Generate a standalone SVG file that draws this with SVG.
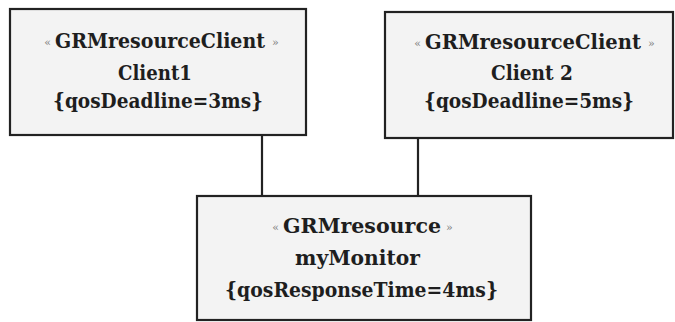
<svg xmlns="http://www.w3.org/2000/svg" width="675" height="322" viewBox="0 0 675 322">
<style>
.box{fill:#f3f3f3;stroke:#222;stroke-width:2.2}
.t{font-family:"DejaVu Serif","Liberation Serif",serif;font-weight:bold;font-size:21px;fill:#1e1e1e}
.s{font-size:19.5px}
.g{font-family:"DejaVu Serif","Liberation Serif",serif;font-size:11px;fill:#808080}
.c{stroke:#222;stroke-width:2.2;fill:none}
</style>
<rect width="675" height="322" fill="#fff"/>
<g id="connectors">
<line class="c" x1="262" y1="135" x2="262" y2="196"/>
<line class="c" x1="418" y1="138" x2="418" y2="196"/>
</g>
<g id="client1">
<rect class="box" x="10" y="9" width="296" height="126"/>
<text class="g" x="51" y="46" text-anchor="end">«</text>
<text class="t s" x="55" y="48" textLength="210" lengthAdjust="spacingAndGlyphs">GRMresourceClient</text>
<text class="g" x="272" y="46">»</text>
<text class="t" x="118" y="80" textLength="74" lengthAdjust="spacingAndGlyphs">Client1</text>
<text class="t" x="53" y="108" textLength="210" lengthAdjust="spacingAndGlyphs">{qosDeadline=3ms}</text>
</g>
<g id="client2">
<rect class="box" x="385" y="12" width="288" height="126"/>
<text class="g" x="421" y="47" text-anchor="end">«</text>
<text class="t s" x="425" y="49" textLength="216" lengthAdjust="spacingAndGlyphs">GRMresourceClient</text>
<text class="g" x="648" y="47">»</text>
<text class="t" x="491" y="80" textLength="82" lengthAdjust="spacingAndGlyphs">Client 2</text>
<text class="t" x="424" y="108" textLength="210" lengthAdjust="spacingAndGlyphs">{qosDeadline=5ms}</text>
</g>
<g id="myMonitor">
<rect class="box" x="197" y="196" width="334" height="124"/>
<text class="g" x="279" y="231" text-anchor="end">«</text>
<text class="t" x="283" y="233" textLength="158" lengthAdjust="spacingAndGlyphs">GRMresource</text>
<text class="g" x="446" y="231">»</text>
<text class="t" x="295" y="265" textLength="125" lengthAdjust="spacingAndGlyphs">myMonitor</text>
<text class="t" x="225" y="297" textLength="273" lengthAdjust="spacingAndGlyphs">{qosResponseTime=4ms}</text>
</g>
</svg>
